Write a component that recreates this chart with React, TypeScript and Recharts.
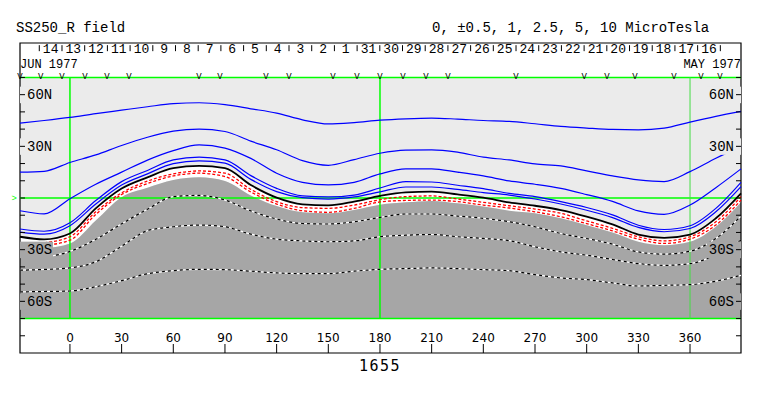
import React from "react";
import { ComposedChart, Line, Area, Scatter, XAxis, YAxis, ReferenceArea, ReferenceLine } from "recharts";

// Carrington longitude of each sampled column (deg), plot runs from -29 to 389.6
const longitudes = [-29, -15, 0, 15, 30, 45, 60, 75, 90, 105, 120, 135, 150, 165, 180, 195, 210, 225, 240, 255, 270, 285, 300, 315, 330, 345, 360, 375, 389.6];

// contour latitudes (deg)
const pos10 = [43.5, 45, 46.8, 49, 51, 53, 54.8, 55.3, 54.2, 51.8, 49.3, 45.4, 43, 43.8, 45.2, 46, 46.4, 45.8, 45, 44.5, 43.1, 41.6, 40.6, 39.8, 39.6, 40.6, 44.1, 47.4, 50.3];
const pos5 = [15, 15.5, 20.6, 25, 30.5, 35.3, 38.8, 40, 38.6, 33, 28, 21.7, 19, 22.3, 26, 27.8, 28, 26.6, 23.7, 22.1, 19.8, 18.6, 15.7, 12.8, 10.5, 9.5, 15.3, 23.1, 30];
const pos2_5 = [-7.4, -9.2, -0.4, 8, 15, 22, 27.5, 30.8, 29, 23, 14.4, 9.1, 7.6, 9.1, 14, 16.9, 16.9, 15, 12.8, 9.9, 8, 5.6, 2, -2, -7.5, -9.5, -4.1, 6, 16.9];
const pos1 = [-18, -19.3, -14.4, -1.5, 9.5, 16, 22.1, 23.7, 22.1, 13, 5.6, 1.2, 0.6, 1.7, 5.8, 9.5, 9.3, 7.4, 5.4, 2.7, 0.8, -2.1, -5.5, -9.8, -15.8, -18.3, -16.1, -6, 9.1];
const pos0_5 = [-19.8, -21, -16.1, -3.5, 7.5, 14, 20, 21.6, 20.2, 10.8, 3.7, 0.2, -0.6, 0.6, 3.6, 6.4, 6.4, 5, 3.1, 1.7, -0.6, -3.5, -7.1, -11.4, -17.1, -19.6, -17.7, -8, 6.6];
const neutral = [-22.5, -24, -20.6, -6, 5.5, 12, 17.3, 18.6, 17.3, 7.5, 0.2, -3.7, -4.3, -2.1, 1.2, 3.3, 3.7, 2.1, 0.2, -2.5, -4.5, -7, -10.8, -15.3, -21.2, -23.1, -21.2, -11.8, 2.7];
const neg0_5 = [null, -26, -22.5, -8, 3, 9.8, 14, 15.7, 14.4, 5, -2.1, -5.6, -6, -4.1, -1, 0.8, 1.2, -0.6, -2.5, -4.5, -6.4, -8.9, -13.3, -17.6, -22.5, -24.9, -22.5, -13.8, 0.8];
const neg1 = [null, -27.5, -24.5, -9.5, 2, 8.4, 12.8, 14.4, 12.4, 3.5, -3.5, -7.4, -8.3, -6, -2.3, -1.4, -1.2, -2.1, -4.1, -5.8, -8, -10.9, -14.9, -19.1, -23.9, -26.4, -23.9, -15.7, -1.2];
const polarityEdge = [-27.8, -29, -26.4, -13, 0.5, 6, 10.5, 12, 9.9, 1.5, -4.7, -8.3, -8.9, -7, -3.9, -2.5, -1.7, -3.1, -5, -7.4, -8.9, -11.8, -15.8, -20.1, -25.4, -27.4, -25.4, -16.7, -2.5];
const neg2_5 = [null, -34.5, -31, -24, -15, -6.5, 0.8, 1.5, -1.2, -7.5, -12.2, -14.8, -15.1, -13.8, -11.3, -9.3, -9.3, -10.5, -11.8, -13.8, -16.7, -20.6, -23.5, -26.8, -31.3, -32.6, -30.9, -23.5, -10.5];
const neg5 = [-41.9, -41.5, -40.6, -37, -28, -19, -16.7, -15.7, -16.7, -21, -23.9, -24.9, -25.4, -24.9, -22.5, -21.6, -21.2, -22.5, -23.5, -24.8, -28.3, -31.3, -33.2, -35.7, -38.1, -39.1, -38.1, -33, -24.5];
const neg10 = [-54.5, -54.3, -54, -51.5, -48, -44, -42.2, -41.4, -41.6, -42.5, -43.5, -43.9, -43.9, -42.5, -41.4, -41, -40.6, -41, -41.6, -42.2, -44.5, -46.4, -47.4, -49.3, -51.1, -50.7, -50.3, -48.3, -44.9];

// central meridian passage dates, right to left in time
const days = [14, 13, 12, 11, 10, 9, 8, 7, 6, 5, 4, 3, 2, 1, 31, 30, 29, 28, 27, 26, 25, 24, 23, 22, 21, 20, 19, 18, 17, 16];
const firstDayLon = -17.8;
const degPerDay = 13.18;

// observation markers along the top edge
const obsLongitudes = [-29, -17, -4.6, 8.7, 21.5, 34.3, 74.9, 87.1, 113.8, 127.2, 152.7, 166.6, 180, 193.4, 206.7, 219.5, 259, 298.5, 311.8, 328, 350.7, 366.4, 377.4];

const lonTicks = [0, 30, 60, 90, 120, 150, 180, 210, 240, 270, 300, 330, 360];
const latTicks = [-80, -70, -60, -50, -40, -30, -20, -10, 0, 10, 20, 30, 40, 50, 60, 70];
const latLabels = [
  { lat: 60, text: "60N" },
  { lat: 30, text: "30N" },
  { lat: -30, text: "30S" },
  { lat: -60, text: "60S" },
];

const LON_MIN = -29;
const LON_MAX = 389.6;
const LIGHT = "#ebebeb";
const DARK = "#a6a6a6";
const MONO = "'Liberation Mono', 'DejaVu Sans Mono', monospace";

const rows = longitudes.map((lon, i) => ({
  lon,
  pos10: pos10[i],
  pos5: pos5[i],
  pos2_5: pos2_5[i],
  pos1: pos1[i],
  pos0_5: pos0_5[i],
  neutral: neutral[i],
  neg0_5: neg0_5[i],
  neg1: neg1[i],
  edge: polarityEdge[i],
  neg2_5: neg2_5[i],
  neg5: neg5[i],
  neg10: neg10[i],
}));

const dayTickPts = [...days, 0].map((_, i) => ({ lon: firstDayLon + i * degPerDay, lat: 87 }));
const dayLabelPts = days.map((d, i) => ({ lon: firstDayLon + (i + 0.5) * degPerDay, lat: 84, text: String(d) }));
const obsPts = obsLongitudes.map((lon) => ({ lon, lat: 69.1 }));
const leftTickPts = latTicks.map((lat) => ({ lon: LON_MIN, lat }));
const rightTickPts = latTicks.map((lat) => ({ lon: LON_MAX, lat }));
const leftLabelPts = latLabels.map((l) => ({ ...l, lon: LON_MIN }));
const rightLabelPts = latLabels.map((l) => ({ ...l, lon: LON_MAX }));

const DayTick = (p: any) => <line x1={p.cx} x2={p.cx} y1={p.cy - 3} y2={p.cy + 3} stroke="#000" />;
const DayLabel = (p: any) => (
  <text x={p.cx} y={p.cy} textAnchor="middle" fontFamily={MONO} fontSize={13} fill="#000">
    {p.payload.text}
  </text>
);
const ObsMark = (p: any) => (
  <text x={p.cx} y={p.cy} textAnchor="middle" fontFamily={MONO} fontSize={9} fill="#000">
    V
  </text>
);
const LeftTick = (p: any) => <line x1={p.cx} x2={p.cx + 5} y1={p.cy} y2={p.cy} stroke="#000" />;
const RightTick = (p: any) => <line x1={p.cx - 5} x2={p.cx} y1={p.cy} y2={p.cy} stroke="#000" />;
const LeftLabel = (p: any) => (
  <g>
    <rect x={p.cx} y={p.cy - 8} width={33} height={16.5} fill={p.payload.lat > 0 ? LIGHT : DARK} />
    <text x={p.cx + 7} y={p.cy + 4.6} fontFamily={MONO} fontSize={14} fill="#000">
      {p.payload.text}
    </text>
  </g>
);
const RightLabel = (p: any) => (
  <g>
    <rect x={p.cx - 34} y={p.cy - 8} width={34} height={16.5} fill={p.payload.lat > 0 ? LIGHT : DARK} />
    <text x={p.cx - 7} y={p.cy + 4.6} textAnchor="end" fontFamily={MONO} fontSize={14} fill="#000">
      {p.payload.text}
    </text>
  </g>
);
const EquatorMark = (p: any) => (
  <text x={p.cx - 3} y={p.cy + 3} textAnchor="end" fontFamily={MONO} fontSize={9} fill="#00ff00">
    &gt;
  </text>
);

export default function App() {
  const blue = "#0000ff";
  return (
    <div style={{ position: "absolute", left: 0, top: 0, width: 763, height: 396, background: "#fff" }}>
      <ComposedChart width={763} height={396} data={rows} margin={{ top: 43, right: 22, bottom: 43, left: 20 }}>
        <XAxis
          dataKey="lon"
          type="number"
          domain={[LON_MIN, LON_MAX]}
          ticks={lonTicks}
          interval={0}
          mirror
          tickSize={9}
          tickMargin={2}
          axisLine={false}
          tickLine={{ stroke: "#000" }}
          tick={{ fill: "#000", fontSize: 12, fontFamily: "'DejaVu Sans', sans-serif" }}
        />
        <YAxis dataKey="lat" type="number" domain={[-90, 90]} hide />

        <ReferenceArea y1={-70} y2={70} fill={LIGHT} fillOpacity={1} stroke="none" />
        <Area dataKey={(d: any) => [d.edge, d.neutral]} type="monotone" fill="#ffffff" fillOpacity={1} stroke="none" isAnimationActive={false} />
        <Area dataKey={(d: any) => [-70, d.edge]} type="monotone" fill={DARK} fillOpacity={1} stroke="none" isAnimationActive={false} />

        <ReferenceLine y={70} stroke="#00ff00" strokeWidth={1.5} />
        <ReferenceLine y={-70} stroke="#00ff00" strokeWidth={1.5} />
        <ReferenceLine y={0} stroke="#00ff00" strokeWidth={1.5} />
        <ReferenceLine segment={[{ x: 0, y: -70 }, { x: 0, y: 70 }]} stroke="#00ff00" strokeWidth={1.5} />
        <ReferenceLine segment={[{ x: 180, y: -70 }, { x: 180, y: 70 }]} stroke="#00ff00" strokeWidth={1.5} />
        <ReferenceLine segment={[{ x: 360, y: -70 }, { x: 360, y: 70 }]} stroke="#44dd44" strokeWidth={1} />

        <Line dataKey="pos10" type="monotone" stroke={blue} strokeWidth={1.2} dot={false} activeDot={false} isAnimationActive={false} />
        <Line dataKey="pos5" type="monotone" stroke={blue} strokeWidth={1.2} dot={false} activeDot={false} isAnimationActive={false} />
        <Line dataKey="pos2_5" type="monotone" stroke={blue} strokeWidth={1.2} dot={false} activeDot={false} isAnimationActive={false} />
        <Line dataKey="pos1" type="monotone" stroke={blue} strokeWidth={1.2} dot={false} activeDot={false} isAnimationActive={false} />
        <Line dataKey="pos0_5" type="monotone" stroke={blue} strokeWidth={1.2} dot={false} activeDot={false} isAnimationActive={false} />
        <Line dataKey="neutral" type="monotone" stroke="#000" strokeWidth={1.8} dot={false} activeDot={false} isAnimationActive={false} />
        <Line dataKey="neg0_5" type="monotone" stroke="#ff0000" strokeWidth={1.3} strokeDasharray="3 2" dot={false} activeDot={false} isAnimationActive={false} />
        <Line dataKey="neg1" type="monotone" stroke="#ff0000" strokeWidth={1.3} strokeDasharray="3 2" dot={false} activeDot={false} isAnimationActive={false} />
        {(["neg2_5", "neg5", "neg10"] as const).map((k) => (
          <Line key={k + "u"} dataKey={k} type="monotone" stroke="#ffffff" strokeWidth={1.2} dot={false} activeDot={false} isAnimationActive={false} />
        ))}
        {(["neg2_5", "neg5", "neg10"] as const).map((k) => (
          <Line key={k} dataKey={k} type="monotone" stroke="#000" strokeWidth={1.2} strokeDasharray="3 3" dot={false} activeDot={false} isAnimationActive={false} />
        ))}

        <Scatter data={leftLabelPts} shape={LeftLabel} isAnimationActive={false} legendType="none" />
        <Scatter data={rightLabelPts} shape={RightLabel} isAnimationActive={false} legendType="none" />
        <Scatter data={leftTickPts} shape={LeftTick} isAnimationActive={false} legendType="none" />
        <Scatter data={rightTickPts} shape={RightTick} isAnimationActive={false} legendType="none" />
        <Scatter data={dayTickPts} shape={DayTick} isAnimationActive={false} legendType="none" />
        <Scatter data={dayLabelPts} shape={DayLabel} isAnimationActive={false} legendType="none" />
        <Scatter data={obsPts} shape={ObsMark} isAnimationActive={false} legendType="none" />
        <Scatter data={[{ lon: LON_MIN, lat: 0 }]} shape={EquatorMark} isAnimationActive={false} legendType="none" />

        <ReferenceArea x1={LON_MIN} x2={LON_MAX} y1={-90} y2={90} fill="none" stroke="#000" strokeWidth={1.2} />
      </ComposedChart>
      <svg width={763} height={396} style={{ position: "absolute", left: 0, top: 0, pointerEvents: "none" }}>
        <text x={16} y={32} fontFamily={MONO} fontSize={14} fill="#000">SS250_R field</text>
        <text x={432} y={32} fontFamily={MONO} fontSize={14} fill="#000">0, ±0.5, 1, 2.5, 5, 10 MicroTesla</text>
        <text x={20} y={67.5} fontFamily={MONO} fontSize={12} fill="#000">JUN 1977</text>
        <text x={741} y={67.5} textAnchor="end" fontFamily={MONO} fontSize={12} fill="#000">MAY 1977</text>
        <text x={380} y={371} textAnchor="middle" fontFamily="'DejaVu Sans Mono', monospace" fontSize={15} letterSpacing={1.5} fill="#000">1655</text>
      </svg>
    </div>
  );
}
